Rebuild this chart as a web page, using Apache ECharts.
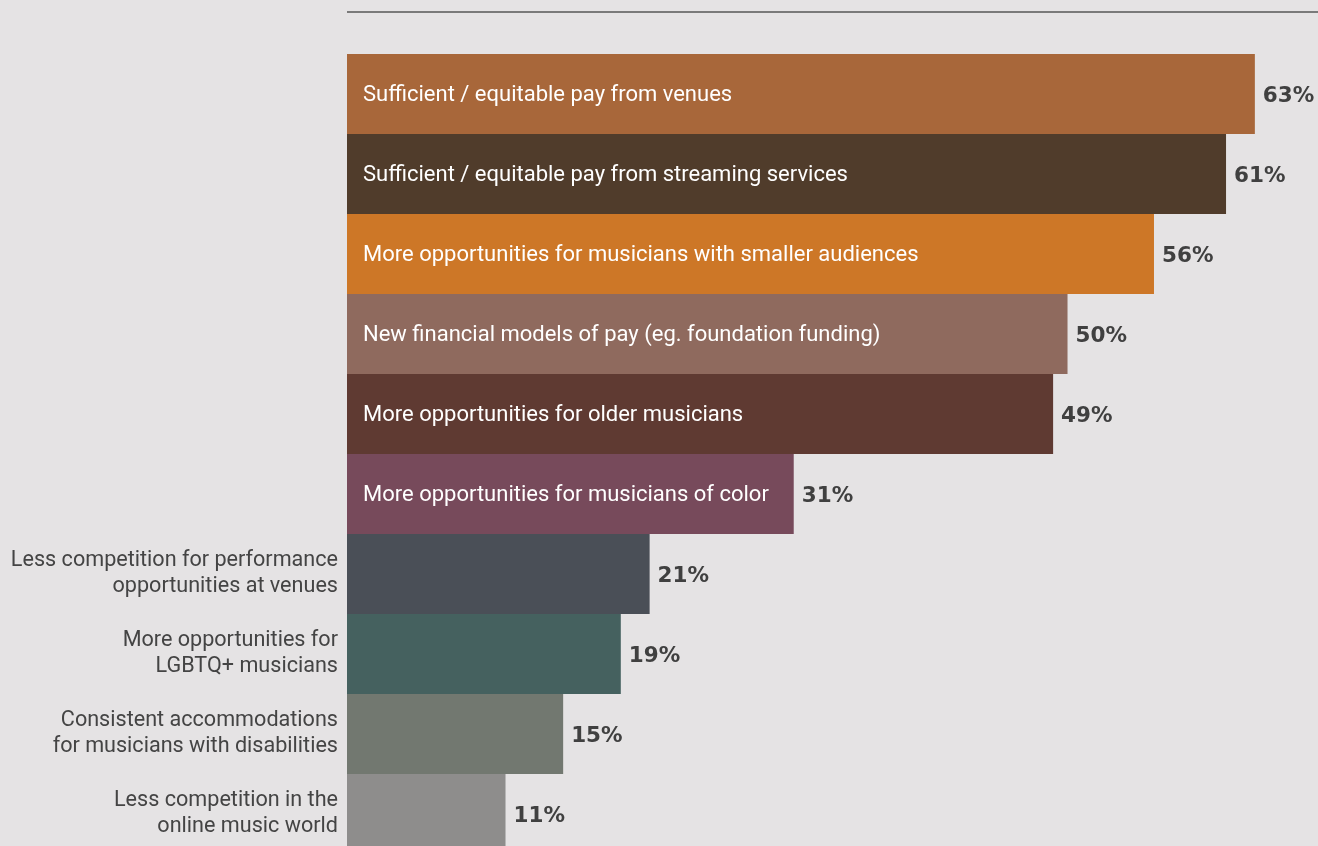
<!DOCTYPE html>
<html>
<head>
<meta charset="utf-8">
<style>
  html, body { margin: 0; padding: 0; background: #e5e3e4; }
  #chart { width: 1318px; height: 846px; }
</style>
<script src="https://cdn.jsdelivr.net/npm/echarts@6/dist/echarts.min.js"></script>
</head>
<body>
<div id="chart"></div>
<script>
// Survey items, top to bottom
const categories = [
  'Sufficient / equitable pay from venues',
  'Sufficient / equitable pay from streaming services',
  'More opportunities for musicians with smaller audiences',
  'New financial models of pay (eg. foundation funding)',
  'More opportunities for older musicians',
  'More opportunities for musicians of color',
  'Less competition for performance\nopportunities at venues',
  'More opportunities for\nLGBTQ+ musicians',
  'Consistent accommodations\nfor musicians with disabilities',
  'Less competition in the\nonline music world'
];
// Share of respondents (%)
const values = [63, 61, 56, 50, 49, 31, 21, 19, 15, 11];
const barColors = ['#a8673a', '#503c2b', '#cd7727', '#8f6a5e', '#5f3a32',
                   '#774a5b', '#4a4f57', '#45615f', '#727870', '#8e8d8c'];
// Items whose name is written inside the bar (the rest go on the axis)
const insideCount = 6;

const labelFont = 'Roboto, sans-serif';
const valueFont = '"DejaVu Sans", sans-serif';

const chart = echarts.init(document.getElementById('chart'));
chart.setOption({
  backgroundColor: '#e5e3e4',
  animation: false,
  graphic: [{
    type: 'line',
    shape: { x1: 347, y1: 12, x2: 1318, y2: 12 },
    style: { stroke: '#7a7a7a', lineWidth: 2 }
  }],
  grid: { left: 347, top: 54, width: 965.5, height: 800, outerBoundsMode: 'none', containLabel: false },
  xAxis: { type: 'value', min: 0, max: 67, show: false },
  yAxis: {
    type: 'category',
    data: categories,
    inverse: true,
    axisLine: { show: false },
    axisTick: { show: false },
    splitLine: { show: false },
    axisLabel: {
      margin: 9,
      color: '#444444',
      fontFamily: labelFont,
      fontSize: 21.6,
      lineHeight: 26,
      padding: [2, 0, 0, 0],
      align: 'right',
      formatter: (v, i) => (i < insideCount ? '' : v)
    }
  },
  series: [
    {
      type: 'bar',
      barCategoryGap: 0,
      data: values.map((v, i) => ({
        value: v,
        itemStyle: { color: barColors[i] },
        label: {
          show: i < insideCount,
          position: 'insideLeft',
          distance: 16,
          offset: [0, 1.5],
          formatter: () => categories[i],
          color: '#ffffff',
          fontFamily: labelFont,
          fontSize: 22
        }
      }))
    },
    {
      type: 'bar',
      barCategoryGap: 0,
      barGap: '-100%',
      silent: true,
      itemStyle: { color: 'rgba(0,0,0,0)' },
      data: values,
      label: {
        show: true,
        position: 'right',
        distance: 8,
        offset: [0, 2],
        formatter: p => p.value + '%',
        color: '#404040',
        fontFamily: valueFont,
        fontWeight: 'bold',
        fontSize: 21.5
      }
    }
  ]
});
</script>
</body>
</html>
